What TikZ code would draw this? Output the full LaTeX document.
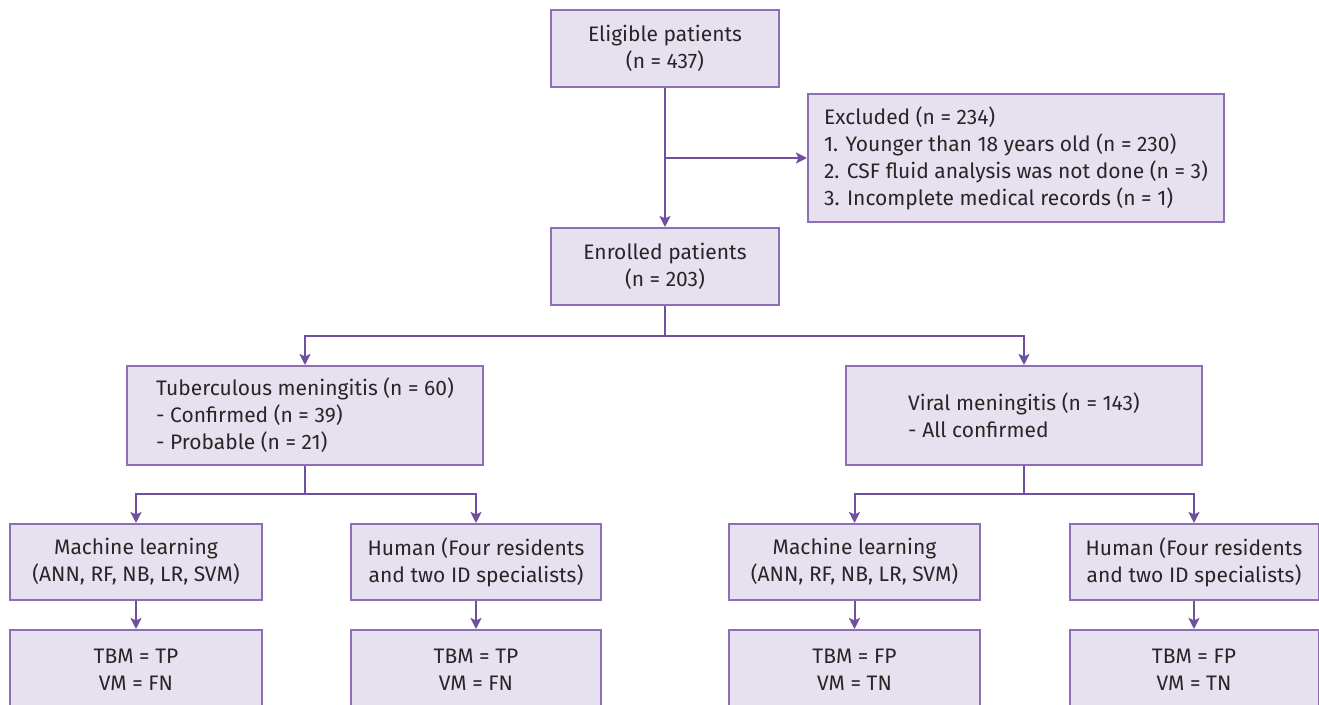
\documentclass[tikz,border=0pt]{standalone}
\usepackage{fontspec}
\setmainfont{Fira Sans}
\usetikzlibrary{arrows.meta}
\definecolor{boxfill}{HTML}{E7E1EF}
\definecolor{boxline}{HTML}{8E6FB6}
\definecolor{arrline}{HTML}{6E4FA0}

\begin{document}
\begin{tikzpicture}[x=0.5pt,y=-0.5pt,line width=1pt,
  box/.style={draw=boxline,fill=boxfill,rectangle,inner sep=0pt,
    font=\fontsize{10.5}{13.5}\selectfont,text=black!85},
  link/.style={draw=arrline,-{Stealth[length=5.5pt,width=5.5pt,inset=1.2pt]}},
  wire/.style={draw=arrline}]
  \useasboundingbox (0,0) rectangle (1319,705);
  \node(elig)  [box,minimum width=114pt,minimum height=38.5pt,align=center] at (665,48.5)  {Eligible patients\\(n = 437)};
  \node(excl)  [box,minimum width=208pt,minimum height=64pt,align=left]     at (1016,158)  {Excluded (n = 234)\\1. Younger than 18 years old (n = 230)\\2. CSF fluid analysis was not done (n = 3)\\3. Incomplete medical records (n = 1)};
  \node(enrol) [box,minimum width=114pt,minimum height=38.5pt,align=center] at (665,266.5) {Enrolled patients\\(n = 203)};
  \node(tbm)   [box,minimum width=178pt,minimum height=49.5pt,align=left]   at (305,415.5) {Tuberculous meningitis (n = 60)\\- Confirmed (n = 39)\\- Probable (n = 21)};
  \node(vir)   [box,minimum width=178pt,minimum height=49.5pt,align=left]   at (1024,415.5){Viral meningitis (n = 143)\\- All confirmed};
  \node(mla)   [box,minimum width=126pt,minimum height=38pt,align=center]   at (136,562)   {Machine learning\\(ANN, RF, NB, LR, SVM)};
  \node(hua)   [box,minimum width=125pt,minimum height=38pt,align=center]   at (476,562)   {Human (Four residents\\and two ID specialists)};
  \node(mlb)   [box,minimum width=125.5pt,minimum height=38pt,align=center] at (854.5,562) {Machine learning\\(ANN, RF, NB, LR, SVM)};
  \node(hub)   [box,minimum width=124.5pt,minimum height=38pt,align=center] at (1194,562)  {Human (Four residents\\and two ID specialists)};
  \node(resa)  [box,minimum width=126pt,minimum height=40pt,align=center]   at (136,670)   {TBM = TP\\VM = FN};
  \node(resb)  [box,minimum width=125pt,minimum height=40pt,align=center]   at (476,670)   {TBM = TP\\VM = FN};
  \node(resc)  [box,minimum width=125.5pt,minimum height=40pt,align=center] at (854.5,670) {TBM = FP\\VM = TN};
  \node(resd)  [box,minimum width=124.5pt,minimum height=40pt,align=center] at (1194,670)  {TBM = FP\\VM = TN};
  % main line and exclusion
  \draw[link] (elig) -- (enrol);
  \coordinate(side) at (elig.south |- excl.west);
  \draw[link] (side) -- (excl.west);
  % split by diagnosis
  \coordinate(split) at (665,336);
  \draw[wire] (enrol) -- (split);
  \draw[link] (split) -| (tbm);
  \draw[link] (split) -| (vir);
  % split by reader
  \coordinate(lsplit) at (305,494);
  \coordinate(rsplit) at (1024,494);
  \draw[wire] (tbm) -- (lsplit);
  \draw[link] (lsplit) -| (mla);
  \draw[link] (lsplit) -| (hua);
  \draw[wire] (vir) -- (rsplit);
  \draw[link] (rsplit) -| (mlb);
  \draw[link] (rsplit) -| (hub);
  % outcomes
  \draw[link] (mla) -- (resa);
  \draw[link] (hua) -- (resb);
  \draw[link] (mlb) -- (resc);
  \draw[link] (hub) -- (resd);
\end{tikzpicture}
\end{document}
